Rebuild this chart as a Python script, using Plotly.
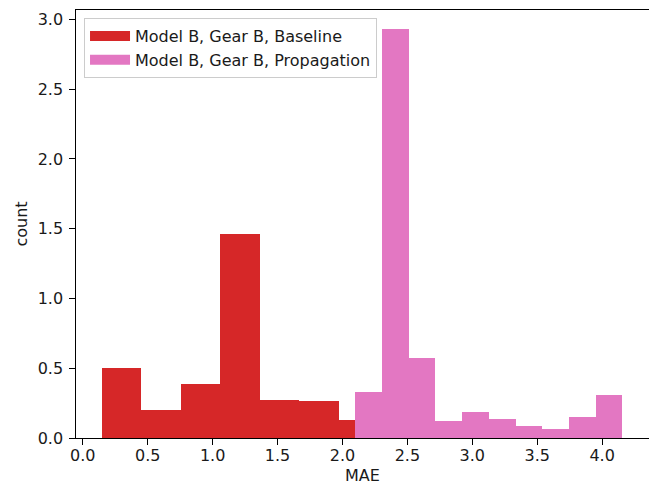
import numpy as np
import plotly.graph_objects as go

# Histogram (density) data
baseline_edges = [0.148, 0.452, 0.755, 1.059, 1.362, 1.666, 1.970, 2.273]
baseline_density = [0.505, 0.199, 0.390, 1.460, 0.273, 0.266, 0.132]

propagation_edges = [2.100, 2.305, 2.511, 2.716, 2.922, 3.127, 3.333, 3.538, 3.744, 3.949, 4.155]
propagation_density = [0.330, 2.932, 0.572, 0.125, 0.184, 0.139, 0.089, 0.065, 0.149, 0.307]

series_names = ["Model B, Gear B, Baseline", "Model B, Gear B, Propagation"]
series_colors = ["#d62728", "#e377c2"]

x_ticks = [0.0, 0.5, 1.0, 1.5, 2.0, 2.5, 3.0, 3.5, 4.0]
y_ticks = [0.0, 0.5, 1.0, 1.5, 2.0, 2.5, 3.0]

FONT = "DejaVu Sans"
FS = 16
TXT = "#1a1a1a"

fig = go.Figure()

for edges, dens, name, color in [
    (baseline_edges, baseline_density, series_names[0], series_colors[0]),
    (propagation_edges, propagation_density, series_names[1], series_colors[1]),
]:
    e = np.array(edges)
    centers = (e[:-1] + e[1:]) / 2
    widths = e[1:] - e[:-1]
    fig.add_trace(go.Bar(
        x=centers, y=dens, width=widths,
        marker=dict(color=color, line=dict(width=0)),
        name=name, showlegend=False, legendgroup=name,
    ))

# legend entries (wide patches like matplotlib)
for name, color in zip(series_names, series_colors):
    fig.add_trace(go.Scatter(
        x=[None], y=[None], mode="lines",
        line=dict(color=color, width=10),
        name=name, legendgroup=name, showlegend=True,
    ))

# the page body adds an 8px offset, so the figure is 8px smaller
fig.update_layout(
    width=649, height=477,
    margin=dict(l=68, r=8, t=2, b=47),
    paper_bgcolor="white", plot_bgcolor="white",
    barmode="overlay", bargap=0,
    font=dict(family=FONT, size=FS, color=TXT),
    legend=dict(
        x=0.014, y=0.981, xanchor="left", yanchor="top",
        bgcolor="rgba(255,255,255,0.8)", bordercolor="#cccccc", borderwidth=1,
        font=dict(family=FONT, size=FS, color=TXT),
        tracegroupgap=0, itemwidth=40,
    ),
    xaxis=dict(
        range=[-0.052, 4.361], tickvals=x_ticks, tickformat=".1f",
        ticks="outside", ticklen=5.6, tickwidth=1.2, tickcolor="black",
        showline=True, linecolor="black", linewidth=1.2, mirror=True,
        showgrid=False, zeroline=False, automargin=False,
        ticklabelstandoff=-3,
        title=dict(text="MAE", standoff=10, font=dict(family=FONT, size=FS)),
    ),
    yaxis=dict(
        range=[0, 3.068], tickvals=y_ticks, tickformat=".1f",
        ticks="outside", ticklen=5.6, tickwidth=1.2, tickcolor="black",
        showline=True, linecolor="black", linewidth=1.2, mirror=True,
        showgrid=False, zeroline=False, automargin=False,
        ticklabelstandoff=3,
        title=dict(text="count", standoff=6, font=dict(family=FONT, size=FS)),
    ),
)

fig.write_html("out.html")
